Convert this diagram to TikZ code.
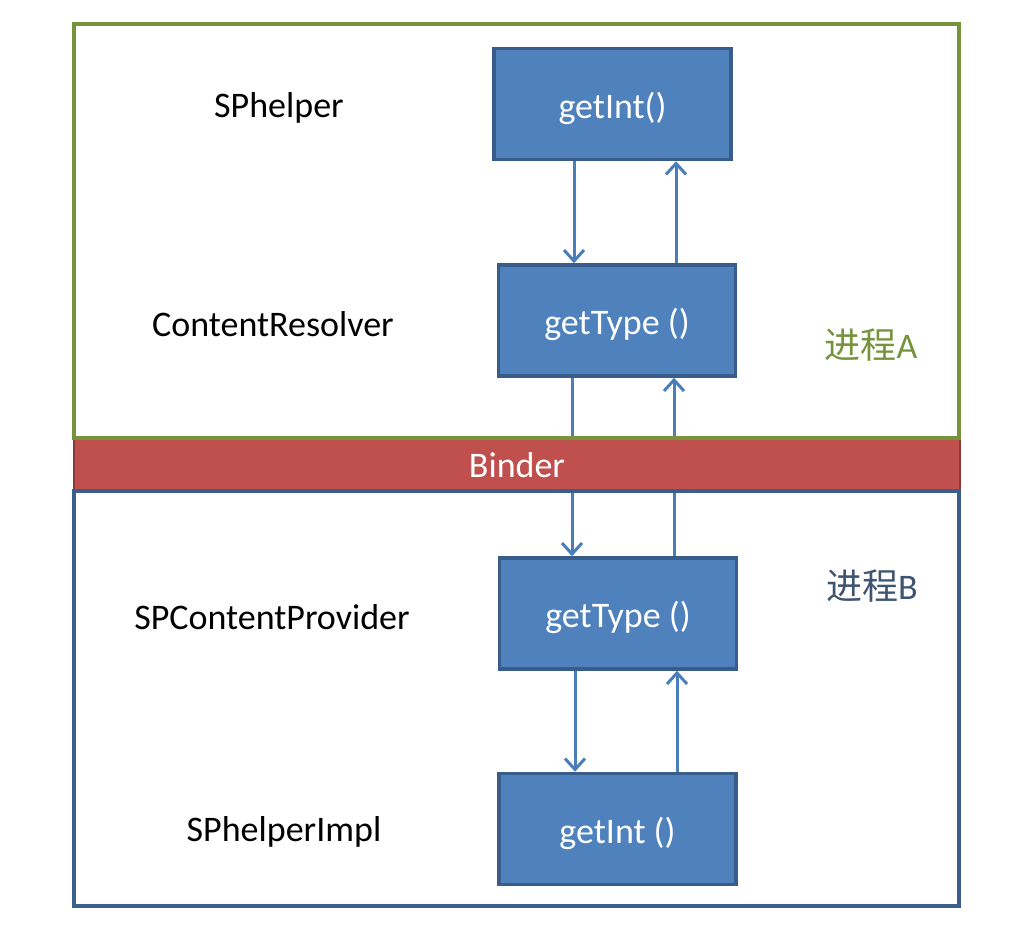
\documentclass[tikz,border=0pt]{standalone}
\usepackage{fontspec}
\setmainfont{Carlito}
\newfontfamily\cjk{Noto Sans CJK SC}
\usetikzlibrary{arrows.meta}
\definecolor{boxfill}{HTML}{4F81BD}
\definecolor{boxline}{HTML}{385D8A}
\definecolor{arrcol}{HTML}{4A7EBB}
\definecolor{agreen}{HTML}{77933C}
\definecolor{bblue}{HTML}{3A5F8B}
\definecolor{bindfill}{HTML}{C0504D}
\definecolor{bindline}{HTML}{8C3836}
\definecolor{btext}{HTML}{3F5470}
\tikzset{
  fn/.style={draw=boxline, line width=3.5pt, fill=boxfill, text=white, minimum width=237pt, minimum height=111pt, inner sep=0pt, font=\fontsize{36}{43}\selectfont, text height=30pt, text depth=2pt},
  lbl/.style={font=\fontsize{36}{43}\selectfont, text=black, inner sep=0pt},
  arr/.style={draw=arrcol, line width=3pt, -{Straight Barb[length=11pt, width=20pt, line width=3pt]}}
}
\begin{document}
\begin{tikzpicture}[x=1pt, y=-1pt]
\useasboundingbox[fill=white] (0,0) rectangle (1036,935);
% function boxes
\node[fn] (g1) at (612.5,104) {getInt()};
\node[fn] (g2) at (617,320.5) {getType ()};
\node[fn] (g3) at (618,613.5) {getType ()};
\node[fn] (g4) at (617.5,829) {getInt ()};
% x positions of connectors
\coordinate (xa) at (574,0);
\coordinate (xb) at (676,0);
\coordinate (xc) at (572,0);
\coordinate (xd) at (674,0);
\coordinate (xe) at (575,0);
\coordinate (xf) at (677,0);
% connectors
\draw[arr] (g1.south -| xa) -- (g2.north -| xa);
\draw[arr] (g2.north -| xb) -- (g1.south -| xb);
\draw[arr] (g2.south -| xc) -- (g3.north -| xc);
\draw[arr] (g3.north -| xd) -- (g2.south -| xd);
\draw[arr] (g3.south -| xe) -- (g4.north -| xe);
\draw[arr] (g4.north -| xf) -- (g3.south -| xf);
% binder bar
\node[draw=bindline, line width=2.5pt, fill=bindfill, minimum width=886pt, minimum height=52pt, inner sep=0pt, text=white, font=\fontsize{36}{43}\selectfont, text height=28pt, text depth=2pt] (bind) at (517,464) {Binder};
% process boxes
\draw[agreen, line width=3.5pt] (74,24) rectangle (959,438);
\draw[bblue, line width=3.5pt] (74,491) rectangle (959,906);
% labels
\node[lbl] (l1) at (279,108) {SPhelper};
\node[lbl] (l2) at (273,324) {ContentResolver};
\node[lbl] (l3) at (272,617) {SPContentProvider};
\node[lbl] (l4) at (284,832) {SPhelperImpl};
\node[lbl, text=agreen] (pa) at (871,345) {{\cjk 进程}A};
\node[lbl, text=btext] (pb) at (872,586) {{\cjk 进程}B};
\end{tikzpicture}
\end{document}
